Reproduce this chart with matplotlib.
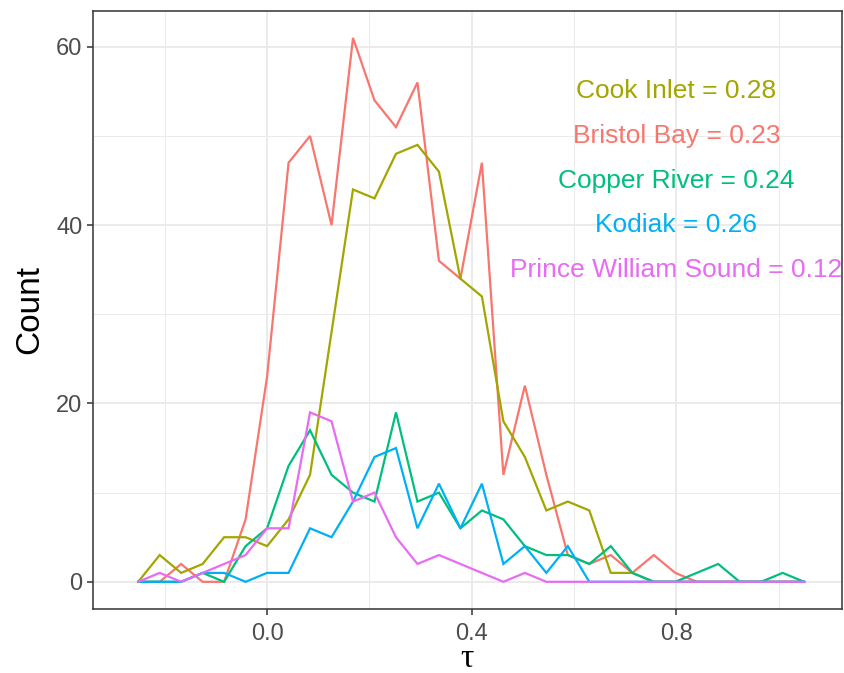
import numpy as np
import matplotlib
matplotlib.use("Agg")
import matplotlib.pyplot as plt
from matplotlib.ticker import MultipleLocator

# bins of the frequency polygon (30 bins + empty bin on each side)
bin_width = 0.042
first_center = -0.252
n_points = 32
tau = first_center + bin_width * np.arange(n_points)

# counts per bin
bristol_bay = [0, 0, 2, 0, 0, 7, 23, 47, 50, 40, 61, 54, 51, 56, 36, 34,
               47, 12, 22, 12, 3, 2, 3, 1, 3, 1, 0, 0, 0, 0, 0, 0]
cook_inlet = [0, 3, 1, 2, 5, 5, 4, 7, 12, 28, 44, 43, 48, 49, 46, 34,
              32, 18, 14, 8, 9, 8, 1, 1, 0, 0, 0, 0, 0, 0, 0, 0]
copper_river = [0, 0, 0, 1, 0, 4, 6, 13, 17, 12, 10, 9, 19, 9, 10, 6,
                8, 7, 4, 3, 3, 2, 4, 1, 0, 0, 1, 2, 0, 0, 1, 0]
kodiak = [0, 0, 0, 1, 1, 0, 1, 1, 6, 5, 9, 14, 15, 6, 11, 6,
          11, 2, 4, 1, 4, 0, 0, 0, 0, 0, 0, 0, 0, 0, 0, 0]
prince_william = [0, 1, 0, 1, 2, 3, 6, 6, 19, 18, 9, 10, 5, 2, 3, 2,
                  1, 0, 1, 0, 0, 0, 0, 0, 0, 0, 0, 0, 0, 0, 0, 0]

regions = ["Bristol Bay", "Cook Inlet", "Copper River", "Kodiak", "Prince William Sound"]
series = [bristol_bay, cook_inlet, copper_river, kodiak, prince_william]
colors = ["#F8766D", "#A3A500", "#00BF7D", "#00B0F6", "#E76BF3"]

# labels at top right (order as shown)
label_order = ["Cook Inlet", "Bristol Bay", "Copper River", "Kodiak", "Prince William Sound"]
label_values = [0.28, 0.23, 0.24, 0.26, 0.12]
label_y = [55, 50, 45, 40, 35]
label_x = 0.8

plt.rcParams["font.family"] = ["Liberation Sans", "DejaVu Sans"]

fig = plt.figure(figsize=(8.44, 6.73), dpi=100)
ax = fig.add_axes([0.1098, 0.0951, 0.8878, 0.889])

for name, vals, c in zip(regions, series, colors):
    ax.plot(tau, vals, color=c, linewidth=1.6, solid_joinstyle="miter", zorder=3)

col = dict(zip(regions, colors))
for name, v, y in zip(label_order, label_values, label_y):
    ax.text(label_x, y, f"{name} = {v:.2f}", color=col[name], fontsize=19,
            ha="center", va="center", zorder=4, clip_on=False)

ax.set_xlim(-0.341, 1.124)
ax.set_ylim(-3.05, 64.05)
ax.xaxis.set_major_locator(MultipleLocator(0.4))
ax.xaxis.set_minor_locator(MultipleLocator(0.2))
ax.yaxis.set_major_locator(MultipleLocator(20))
ax.yaxis.set_minor_locator(MultipleLocator(10))
ax.set_xticks([0.0, 0.4, 0.8])
ax.set_xticklabels(["0.0", "0.4", "0.8"])

ax.grid(which="major", color="#EBEBEB", linewidth=1.4, zorder=0)
ax.grid(which="minor", color="#EBEBEB", linewidth=0.7, zorder=0)
ax.set_axisbelow(True)

for s in ax.spines.values():
    s.set_color("#333333")
    s.set_linewidth(1.1)

ax.tick_params(which="major", length=4.3, width=1.1, color="#333333",
               labelcolor="#4D4D4D", labelsize=17, pad=3)
ax.tick_params(axis="x", which="major", pad=5.5)
ax.tick_params(which="minor", length=0)

ax.set_ylabel("Count", fontsize=24, color="black", labelpad=8)
ax.set_xlabel("τ", fontsize=24, color="black", family="Liberation Serif", labelpad=-1)

fig.savefig("out.png", dpi=100)
